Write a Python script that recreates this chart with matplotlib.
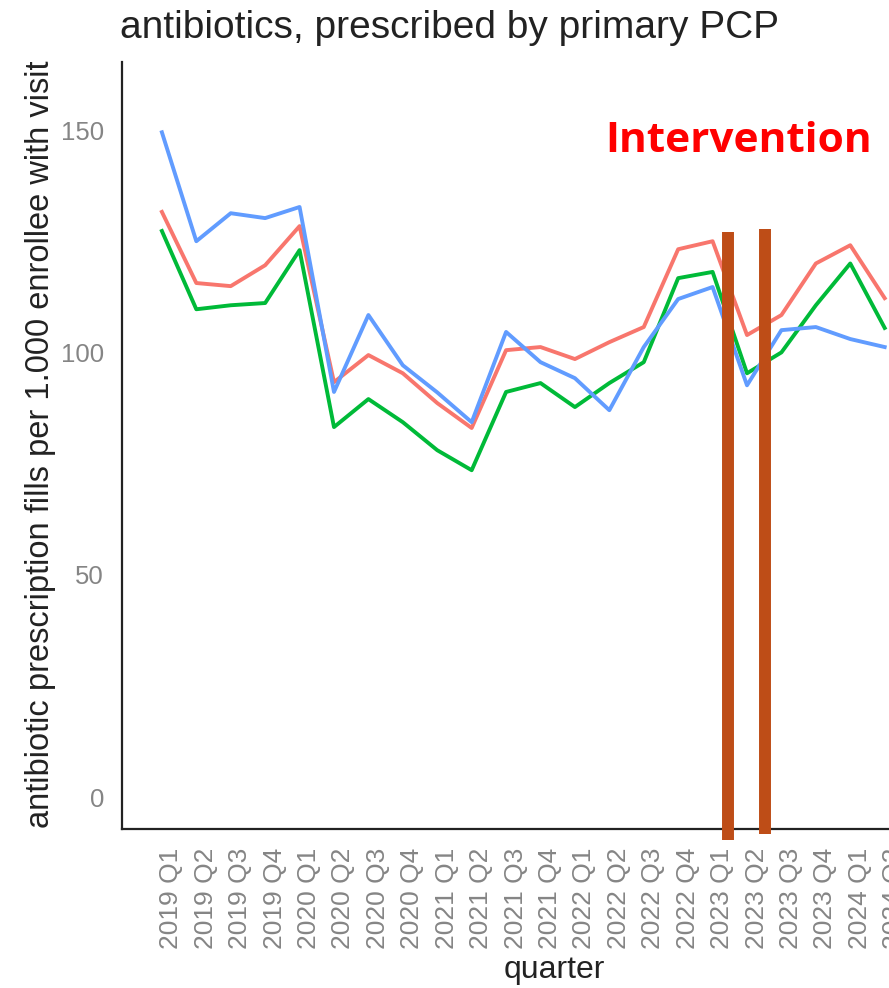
import matplotlib
matplotlib.use('Agg')
import matplotlib.pyplot as plt
import matplotlib.transforms as mtrans

plt.rcParams['font.family'] = ['Liberation Sans', 'DejaVu Sans']

quarters = ['2019 Q1', '2019 Q2', '2019 Q3', '2019 Q4',
            '2020 Q1', '2020 Q2', '2020 Q3', '2020 Q4',
            '2021 Q1', '2021 Q2', '2021 Q3', '2021 Q4',
            '2022 Q1', '2022 Q2', '2022 Q3', '2022 Q4',
            '2023 Q1', '2023 Q2', '2023 Q3', '2023 Q4',
            '2024 Q1', '2024 Q2']

red_vals = [131.6, 115.6, 114.9, 119.6, 128.4, 93.3, 99.4, 95.3, 88.6, 83.0,
            100.5, 101.2, 98.5, 102.3, 105.7, 123.2, 125.0, 103.9, 108.4, 120.0,
            124.1, 112.2]
green_vals = [127.3, 109.7, 110.6, 111.1, 123.0, 83.2, 89.5, 84.3, 78.0, 73.5,
              91.1, 93.1, 87.7, 93.1, 97.8, 116.7, 118.1, 95.3, 100.0, 110.6,
              120.0, 105.5]
blue_vals = [149.5, 125.0, 131.3, 130.2, 132.7, 91.1, 108.4, 97.1, 91.0, 84.3,
             104.6, 97.8, 94.2, 87.0, 101.2, 112.0, 114.7, 92.6, 105.0, 105.7,
             103.0, 101.2]

# intervention markers (drawn over the chart)
marker_x = [16.44, 17.51]
marker_top = [127.1, 127.7]
marker_bottom = [-9.7, -8.3]

fig = plt.figure(figsize=(8.89, 9.88), dpi=100)
ax = fig.add_axes([0.1372, 0.1609, 0.947, 0.7763])

x = list(range(len(quarters)))
ax.plot(x, red_vals, color='#F8766D', lw=2.8)
ax.plot(x, green_vals, color='#00BA38', lw=2.8)
ax.plot(x, blue_vals, color='#619CFF', lw=2.8)

for mx, t, b in zip(marker_x, marker_top, marker_bottom):
    ax.plot([mx, mx], [b, t], color='#BE4D17', lw=8.6,
            solid_capstyle='butt', clip_on=False, zorder=5)

ax.text(16.74, 147.5, 'Intervention', color='#FF0000', fontsize=30.5,
        fontweight='bold', ha='center', va='center',
        family=['Open Sans', 'DejaVu Sans'])

ax.set_xlim(-1.16, 23.3)
ax.set_ylim(-7.2, 165.3)
ax.set_xticks(x)
ax.set_xticklabels(quarters, rotation=90, color='#858585', fontsize=19)
ax.set_yticks([0, 50, 100, 150])
ax.tick_params(axis='y', labelcolor='#858585', labelsize=18.5, length=0, pad=13)
ax.tick_params(axis='x', length=0, pad=13.5)

# labels sit a little right of their ticks, as in the original
shift = mtrans.ScaledTranslation(0.095, 0, fig.dpi_scale_trans)
for lbl in ax.get_xticklabels():
    lbl.set_transform(lbl.get_transform() + shift)

for s in ['top', 'right']:
    ax.spines[s].set_visible(False)
for s in ['left', 'bottom']:
    ax.spines[s].set_linewidth(1.6)
    ax.spines[s].set_color('#222222')

fig.text(0.135, 0.9615, 'antibiotics, prescribed by primary PCP', fontsize=28,
         color='#222222', ha='left', va='baseline')
fig.text(0.045, 0.55, 'antibiotic prescription fills per 1.000 enrollee with visit',
         fontsize=23.5, color='#222222', rotation=90, ha='center', va='center')
fig.text(0.624, 0.018, 'quarter', fontsize=23, color='#222222', ha='center', va='center')

fig.savefig('out.png', dpi=100)
